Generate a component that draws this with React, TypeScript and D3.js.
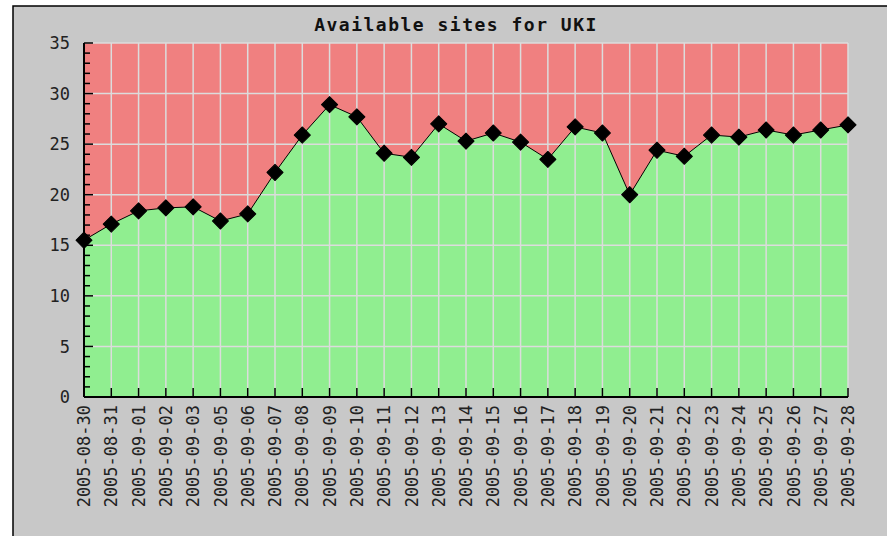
import React, { useRef, useEffect } from 'react';
import * as d3 from 'd3';

const title = 'Available sites for UKI';

const dates = [
  '2005-08-30', '2005-08-31', '2005-09-01', '2005-09-02', '2005-09-03',
  '2005-09-05', '2005-09-06', '2005-09-07', '2005-09-08', '2005-09-09',
  '2005-09-10', '2005-09-11', '2005-09-12', '2005-09-13', '2005-09-14',
  '2005-09-15', '2005-09-16', '2005-09-17', '2005-09-18', '2005-09-19',
  '2005-09-20', '2005-09-21', '2005-09-22', '2005-09-23', '2005-09-24',
  '2005-09-25', '2005-09-26', '2005-09-27', '2005-09-28',
];

const sites = [
  15.5, 17.1, 18.4, 18.7, 18.8,
  17.4, 18.1, 22.2, 25.9, 28.9,
  27.7, 24.1, 23.7, 27.0, 25.3,
  26.1, 25.2, 23.5, 26.7, 26.1,
  20.0, 24.4, 23.8, 25.9, 25.7,
  26.4, 25.9, 26.4, 26.9,
];

const yMajorTicks = [0, 5, 10, 15, 20, 25, 30, 35];

const App = () => {
  const svgRef = useRef<SVGSVGElement>(null);

  useEffect(() => {
    const width = 887;
    const height = 536;
    const margin = { top: 43, right: 39, bottom: 139, left: 84 };

    const svg = d3.select(svgRef.current);
    svg.selectAll('*').remove();
    svg.attr('width', width).attr('height', height);

    // page background + frame
    svg.append('rect').attr('width', width).attr('height', height).attr('fill', '#ffffff');
    svg.append('rect')
      .attr('x', 13).attr('y', 6)
      .attr('width', width + 20).attr('height', height + 20)
      .attr('fill', '#c8c8c8')
      .attr('stroke', '#000').attr('stroke-width', 1.5);

    const data = dates.map((d, i) => ({ date: d, value: sites[i] }));

    const x = d3.scalePoint<string>()
      .domain(dates)
      .range([margin.left, width - margin.right]);

    const y = d3.scaleLinear()
      .domain([0, 35])
      .range([height - margin.bottom, margin.top]);

    // red (unavailable) background of plot
    svg.append('rect')
      .attr('x', margin.left)
      .attr('y', margin.top)
      .attr('width', x.range()[1] - margin.left)
      .attr('height', y(0) - margin.top)
      .attr('fill', '#f08080');

    // green area
    const area = d3.area<{ date: string; value: number }>()
      .x(d => x(d.date)!)
      .y0(y(0))
      .y1(d => y(d.value));

    svg.append('path')
      .datum(data)
      .attr('d', area)
      .attr('fill', '#90ee90');

    // grid
    const grid = svg.append('g').attr('stroke', '#dcdcdc').attr('stroke-width', 1.5);
    grid.selectAll('line.h')
      .data(yMajorTicks)
      .join('line')
      .attr('class', 'h')
      .attr('x1', margin.left)
      .attr('x2', x.range()[1])
      .attr('y1', d => y(d))
      .attr('y2', d => y(d));
    grid.selectAll('line.v')
      .data(dates)
      .join('line')
      .attr('class', 'v')
      .attr('x1', d => x(d)!)
      .attr('x2', d => x(d)!)
      .attr('y1', margin.top)
      .attr('y2', y(0));

    // line
    const line = d3.line<{ date: string; value: number }>()
      .x(d => x(d.date)!)
      .y(d => y(d.value));
    svg.append('path')
      .datum(data)
      .attr('d', line)
      .attr('fill', 'none')
      .attr('stroke', '#000')
      .attr('stroke-width', 1);

    // markers
    const diamond = d3.symbol().type(d3.symbolSquare).size(130);
    svg.append('g')
      .selectAll('path')
      .data(data)
      .join('path')
      .attr('d', diamond)
      .attr('transform', d => `translate(${x(d.date)},${y(d.value)}) rotate(45)`)
      .attr('fill', '#000')
      .attr('stroke', '#000')
      .attr('stroke-width', 1)
      .attr('stroke-linejoin', 'round');

    // Y axis
    const yAxis = svg.append('g');
    yAxis.append('line')
      .attr('x1', margin.left).attr('x2', margin.left)
      .attr('y1', margin.top).attr('y2', y(0))
      .attr('stroke', '#000').attr('stroke-width', 2);
    yAxis.selectAll('line.tick')
      .data(d3.range(0, 36, 1))
      .join('line')
      .attr('class', 'tick')
      .attr('x1', margin.left)
      .attr('x2', d => margin.left + (d % 5 === 0 ? 9 : 6))
      .attr('y1', d => y(d))
      .attr('y2', d => y(d))
      .attr('stroke', '#000')
      .attr('stroke-width', 1.5);
    yAxis.selectAll('text')
      .data(yMajorTicks)
      .join('text')
      .attr('x', 70)
      .attr('y', d => y(d))
      .attr('dy', '0.36em')
      .attr('text-anchor', 'end')
      .style('font-family', '"DejaVu Sans Mono", monospace')
      .style('font-size', '17px')
      .style('fill', '#222')
      .text(d => d);

    // X axis
    const xAxis = svg.append('g');
    xAxis.append('line')
      .attr('x1', margin.left).attr('x2', x.range()[1])
      .attr('y1', y(0)).attr('y2', y(0))
      .attr('stroke', '#000').attr('stroke-width', 2);
    xAxis.selectAll('line.tick')
      .data(dates)
      .join('line')
      .attr('class', 'tick')
      .attr('x1', d => x(d)!)
      .attr('x2', d => x(d)!)
      .attr('y1', y(0))
      .attr('y2', y(0) - 9)
      .attr('stroke', '#000')
      .attr('stroke-width', 1.5);
    xAxis.selectAll('text')
      .data(dates)
      .join('text')
      .attr('transform', d => `translate(${x(d)},${y(0) + 8}) rotate(-90)`)
      .attr('dy', '0.36em')
      .attr('text-anchor', 'end')
      .style('font-family', '"DejaVu Sans Mono", monospace')
      .style('font-size', '17px')
      .style('fill', '#222')
      .text(d => d);

    // title
    svg.append('text')
      .attr('x', 456)
      .attr('y', 31)
      .attr('text-anchor', 'middle')
      .style('font-family', '"DejaVu Sans Mono", monospace')
      .style('font-weight', 'bold')
      .style('font-size', '18px')
      .style('letter-spacing', '1.5px')
      .style('fill', '#111')
      .text(title);
  }, []);

  return (
    <div style={{ position: 'absolute', left: 0, top: 0 }}>
      <svg ref={svgRef} style={{ display: 'block' }}></svg>
    </div>
  );
};

export default App;
